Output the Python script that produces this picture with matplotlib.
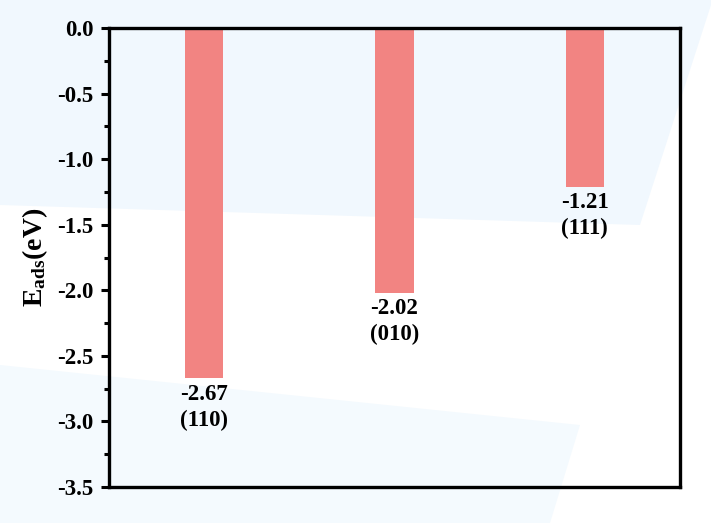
import matplotlib
matplotlib.use("Agg")
import matplotlib.pyplot as plt
from matplotlib.patches import Polygon
from matplotlib.ticker import MultipleLocator

facets = ["(110)", "(010)", "(111)"]
energies = [-2.67, -2.02, -1.21]
value_labels = ["-2.67", "-2.02", "-1.21"]

plt.rcParams['font.family'] = ['Liberation Serif', 'DejaVu Serif']
plt.rcParams['font.weight'] = 'bold'
plt.rcParams['mathtext.fontset'] = 'custom'
plt.rcParams['mathtext.rm'] = 'Liberation Serif:bold'
plt.rcParams['mathtext.bf'] = 'Liberation Serif:bold'
plt.rcParams['mathtext.it'] = 'Liberation Serif:bold'

W, H = 711, 523
fig = plt.figure(figsize=(W/100, H/100), dpi=100)
fig.patch.set_facecolor('white')

def px(pts):
    return [(x/W, 1 - y/H) for x, y in pts]

fig.patches.append(Polygon(px([(0, 0), (711, 0), (711, 5), (640, 225), (0, 205)]),
                           closed=True, transform=fig.transFigure,
                           facecolor='#f1f8fe', edgecolor='none', zorder=-5))
fig.patches.append(Polygon(px([(0, 365), (580, 425), (550, 523), (0, 523)]),
                           closed=True, transform=fig.transFigure,
                           facecolor='#f4fafe', edgecolor='none', zorder=-5))

ax = fig.add_axes([109/W, 1 - 487/H, (680-109)/W, (487-28)/H])
ax.set_facecolor('none')
ax.set_zorder(1)

x = list(range(len(energies)))
ax.bar(x, energies, width=0.2, color='#f28482', zorder=2)

for xi, e, v, f in zip(x, energies, value_labels, facets):
    ax.annotate(f"{v}\n{f}", xy=(xi, e), xytext=(0, -4), textcoords='offset points',
                ha='center', va='top', fontsize=16.5, fontweight='bold', linespacing=1.3)

ax.set_xlim(-0.5, 2.5)
ax.set_ylim(-3.5, 0.0)
ax.yaxis.set_major_locator(MultipleLocator(0.5))
ax.yaxis.set_minor_locator(MultipleLocator(0.25))
ax.set_yticklabels([f"{t:.1f}" for t in ax.get_yticks()])
ax.set_xticks([])
ax.tick_params(axis='y', which='major', direction='out', length=6, width=2.2, labelsize=16.5, pad=5)
ax.tick_params(axis='y', which='minor', direction='out', length=3.5, width=2.2)
for s in ax.spines.values():
    s.set_linewidth(2.4)
ax.set_ylabel(r'$\mathrm{E_{ads}}$(eV)', fontsize=20, fontweight='bold', labelpad=5)

fig.savefig('out.png', dpi=100)
